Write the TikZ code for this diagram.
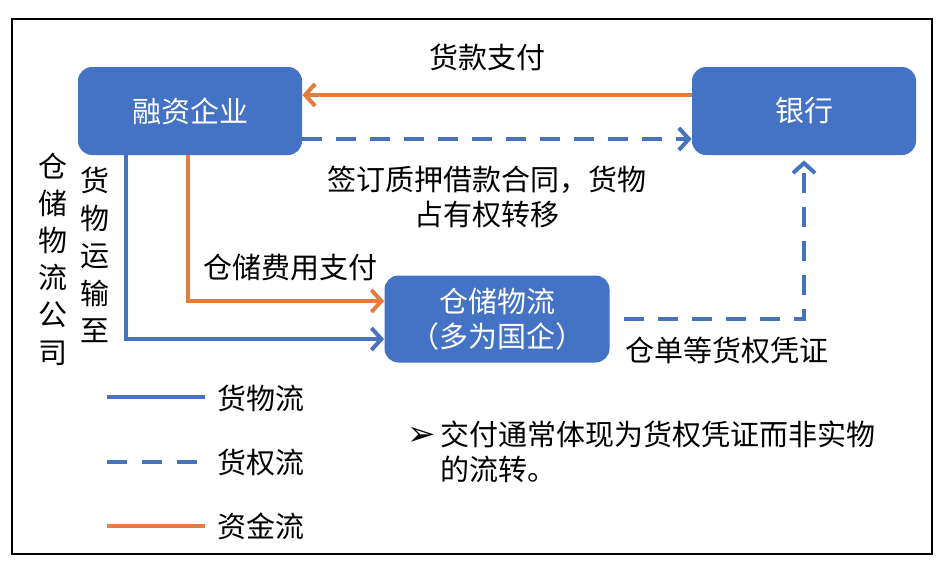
\documentclass[tikz,border=0pt]{standalone}
\usepackage{fontspec}
\setmainfont{Noto Sans CJK SC}
\newfontfamily\symfont{DejaVu Sans}
\usetikzlibrary{arrows.meta}
\definecolor{boxblue}{RGB}{68,114,196}
\definecolor{flowblue}{RGB}{70,114,190}
\definecolor{floworange}{RGB}{228,124,62}
\tikzset{
	party/.style={rectangle, rounded corners=7pt, fill=boxblue, text=white, inner sep=0pt,
		minimum width=112pt, minimum height=44pt, align=center, font=\txtfont},
	goodsflow/.style={flowblue, line width=2pt},
	rightflow/.style={flowblue, line width=2pt, dash pattern=on 10pt off 7pt},
	moneyflow/.style={floworange, line width=2pt},
	tip/.style={-{Straight Barb[length=5pt,width=11pt,line width=2pt]}},
	lbl/.style={inner sep=0pt, font=\txtfont, align=center}
}
\newcommand{\txtfont}{\fontsize{14.5}{17.5}\selectfont}
\begin{document}
\begin{tikzpicture}[x=0.5pt, y=-0.5pt]
			%%%%% FRAME %%%%%
			\useasboundingbox (0,0) rectangle (945,568);
			\fill[white] (0,0) rectangle (945,568);
			\draw[line width=1.4pt] (12,19) rectangle (932,554);
			
			%%%%% PARTIES %%%%%
			\node[party] (firm) at (190,111) {融资企业};
			\node[party] (bank) at (804,111) {银行};
			\node[party, minimum width=112.5pt, minimum height=43.5pt] (store) at (497,319)
				{仓储物流\\（多为国企）};
			
			%%%%% FLOWS %%%%%
			\draw[moneyflow, tip] ([yshift=8pt]bank.west) -- ([yshift=8pt]firm.east);
			\draw[rightflow, tip] ([yshift=-14pt]firm.east) -- ([yshift=-14pt]bank.west);
			\draw[goodsflow, tip] ([xshift=24pt]firm.south west) |- ([yshift=-10pt]store.west);
			\draw[moneyflow, tip] ([xshift=55pt]firm.south west) |- ([yshift=9pt]store.west);
			\draw[rightflow, tip, shorten <=7pt, shorten >=2.5pt] (store.east) -| (bank.south);
			
			%%%%% LABELS %%%%%
			\node[lbl] (paylbl) at (487,57) {货款支付};
			\node[lbl, text depth=0pt] (contractlbl) at (487,196) {签订质押借款合同，货物\\占有权转移};
			\node[lbl] (feelbl) at (290,268) {仓储费用支付};
			\node[lbl] (receiptlbl) at (727,350) {仓单等货权凭证};
			\node[lbl, font=\fontsize{14.5}{18.6}\selectfont] (carrierlbl) at (53,259) {仓\\储\\物\\流\\公\\司};
			\node[lbl, font=\fontsize{14.5}{18.7}\selectfont] (shiplbl) at (95,255) {货\\物\\运\\输\\至};
			
			%%%%% LEGEND %%%%%
			\draw[goodsflow] (107,397) coordinate (lg1a) -- (205,397) coordinate (lg1b);
			\node[lbl, anchor=west] (lg1) at (217,398) {货物流};
			\draw[rightflow, dash pattern=on 10pt off 7.5pt] (107,462) coordinate (lg2a) -- (200,462) coordinate (lg2b);
			\node[lbl, anchor=west] (lg2) at (217,462) {货权流};
			\draw[moneyflow] (107,526) coordinate (lg3a) -- (205,526) coordinate (lg3b);
			\node[lbl, anchor=west] (lg3) at (217,526) {资金流};
			
			%%%%% NOTE %%%%%
			\node[lbl, font=\symfont\fontsize{17}{19}\selectfont] (bullet) at (422,436) {➢};
			\node[lbl, anchor=west, align=left] (note) at (440,452) {交付通常体现为货权凭证而非实物\\的流转。};
			
			%%%%% END %%%%%
\end{tikzpicture}
\end{document}
